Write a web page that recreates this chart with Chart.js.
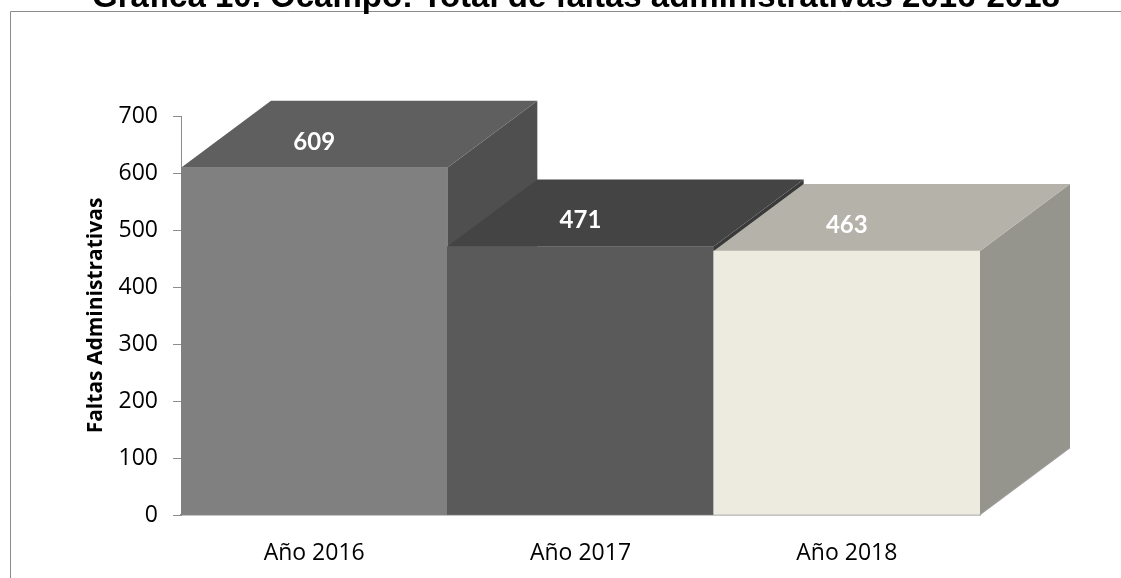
<!DOCTYPE html>
<html>
<head>
<meta charset="utf-8">
<script src="https://cdn.jsdelivr.net/npm/chart.js@4"></script>
<style>
  html, body { margin: 0; padding: 0; background: #ffffff; }
  #wrap { width: 1121px; height: 578px; position: relative; }
</style>
</head>
<body>
<div id="wrap"><canvas id="chart" width="1121" height="578"></canvas></div>
<script>
// data
const titleText = "Gráfica 10. Ocampo: Total de faltas administrativas 2016-2018";
const categories = ["Año 2016", "Año 2017", "Año 2018"];
const faltas = [609, 471, 463];
const yMax = 700;
const yStep = 100;

// colours of each box: front, top and right side faces
const frontColors = ["#808080", "#5a5a5a", "#edebe0"];
const topColors = ["#5f5f5f", "#444444", "#b5b2aa"];
const sideColors = ["#4f4f4f", "#3a3a3a", "#96958d"];

const depthX = 90; // how far the back face is pushed right
const depthY = 67; // and up

// draws the outer frame and the (cut off) title
const framePlugin = {
  id: "frame",
  beforeDraw(chart) {
    const ctx = chart.ctx;
    ctx.save();
    ctx.strokeStyle = "#8c8c8c";
    ctx.lineWidth = 1;
    ctx.beginPath();
    ctx.moveTo(10.5, chart.height);
    ctx.lineTo(10.5, 11.5);
    ctx.lineTo(chart.width, 11.5);
    ctx.stroke();
    ctx.fillStyle = "#000000";
    ctx.font = "bold 33px 'Liberation Sans', Arial, sans-serif";
    ctx.textAlign = "center";
    ctx.textBaseline = "alphabetic";
    ctx.fillText(titleText, 576, 7);
    ctx.restore();
  },
};

// top and side faces of the 3d boxes, taken from the bar elements
const boxPlugin = {
  id: "boxes",
  beforeDatasetsDraw(chart) {
    const ctx = chart.ctx;
    const bars = chart.getDatasetMeta(0).data;
    ctx.save();
    bars.forEach((bar, i) => {
      const left = bar.x - bar.width / 2;
      const right = bar.x + bar.width / 2;
      const top = bar.y;
      const bottom = bar.base;

      // right side
      ctx.fillStyle = sideColors[i];
      ctx.beginPath();
      ctx.moveTo(right, top);
      ctx.lineTo(right + depthX, top - depthY);
      ctx.lineTo(right + depthX, bottom - depthY);
      ctx.lineTo(right, bottom);
      ctx.closePath();
      ctx.fill();

      // top
      ctx.fillStyle = topColors[i];
      ctx.beginPath();
      ctx.moveTo(left, top);
      ctx.lineTo(left + depthX, top - depthY);
      ctx.lineTo(right + depthX, top - depthY);
      ctx.lineTo(right, top);
      ctx.closePath();
      ctx.fill();

      // floor edge under the last box
      if (i === bars.length - 1) {
        ctx.strokeStyle = "#9a9a9a";
        ctx.lineWidth = 1.5;
        ctx.beginPath();
        ctx.moveTo(right, bottom);
        ctx.lineTo(right + depthX, bottom - depthY);
        ctx.stroke();
      }
    });
    ctx.restore();
  },
  afterDatasetsDraw(chart) {
    const ctx = chart.ctx;
    const bars = chart.getDatasetMeta(0).data;
    ctx.save();
    ctx.fillStyle = "#ffffff";
    ctx.font = "bold 24px Lato, 'Open Sans', sans-serif";
    ctx.textAlign = "center";
    ctx.textBaseline = "middle";
    bars.forEach((bar, i) => {
      ctx.fillText(String(faltas[i]), bar.x, bar.y - 26);
    });
    ctx.restore();
  },
};

new Chart(document.getElementById("chart"), {
  type: "bar",
  data: {
    labels: categories,
    datasets: [
      {
        label: "Faltas Administrativas",
        data: faltas,
        backgroundColor: frontColors,
        borderWidth: 0,
        categoryPercentage: 1.0,
        barPercentage: 1.0,
      },
    ],
  },
  options: {
    responsive: false,
    animation: false,
    layout: {
      padding: { left: 10, right: 141, top: 116, bottom: 0 },
    },
    plugins: {
      legend: { display: false },
      tooltip: { enabled: false },
      title: { display: false },
    },
    scales: {
      x: {
        grid: { display: false },
        border: { display: true, color: "#8c8c8c", width: 1.5 },
        ticks: {
          color: "#000000",
          padding: 17,
          font: { family: "'Open Sans', sans-serif", size: 23 },
        },
        afterFit(scale) {
          scale.height = 63;
        },
      },
      y: {
        min: 0,
        max: yMax,
        grid: { drawOnChartArea: false, drawTicks: true, tickLength: 8, color: "#8c8c8c" },
        border: { display: true, color: "#8c8c8c" },
        ticks: {
          stepSize: yStep,
          color: "#000000",
          padding: 15,
          font: { family: "'Open Sans', sans-serif", size: 23 },
        },
        title: {
          display: true,
          text: "Faltas Administrativas",
          color: "#000000",
          padding: { top: 73, bottom: 0 },
          font: { family: "'Open Sans', sans-serif", size: 21, weight: "bold" },
        },
        afterFit(scale) {
          scale.width = 171;
        },
      },
    },
  },
  plugins: [framePlugin, boxPlugin],
});
</script>
</body>
</html>
